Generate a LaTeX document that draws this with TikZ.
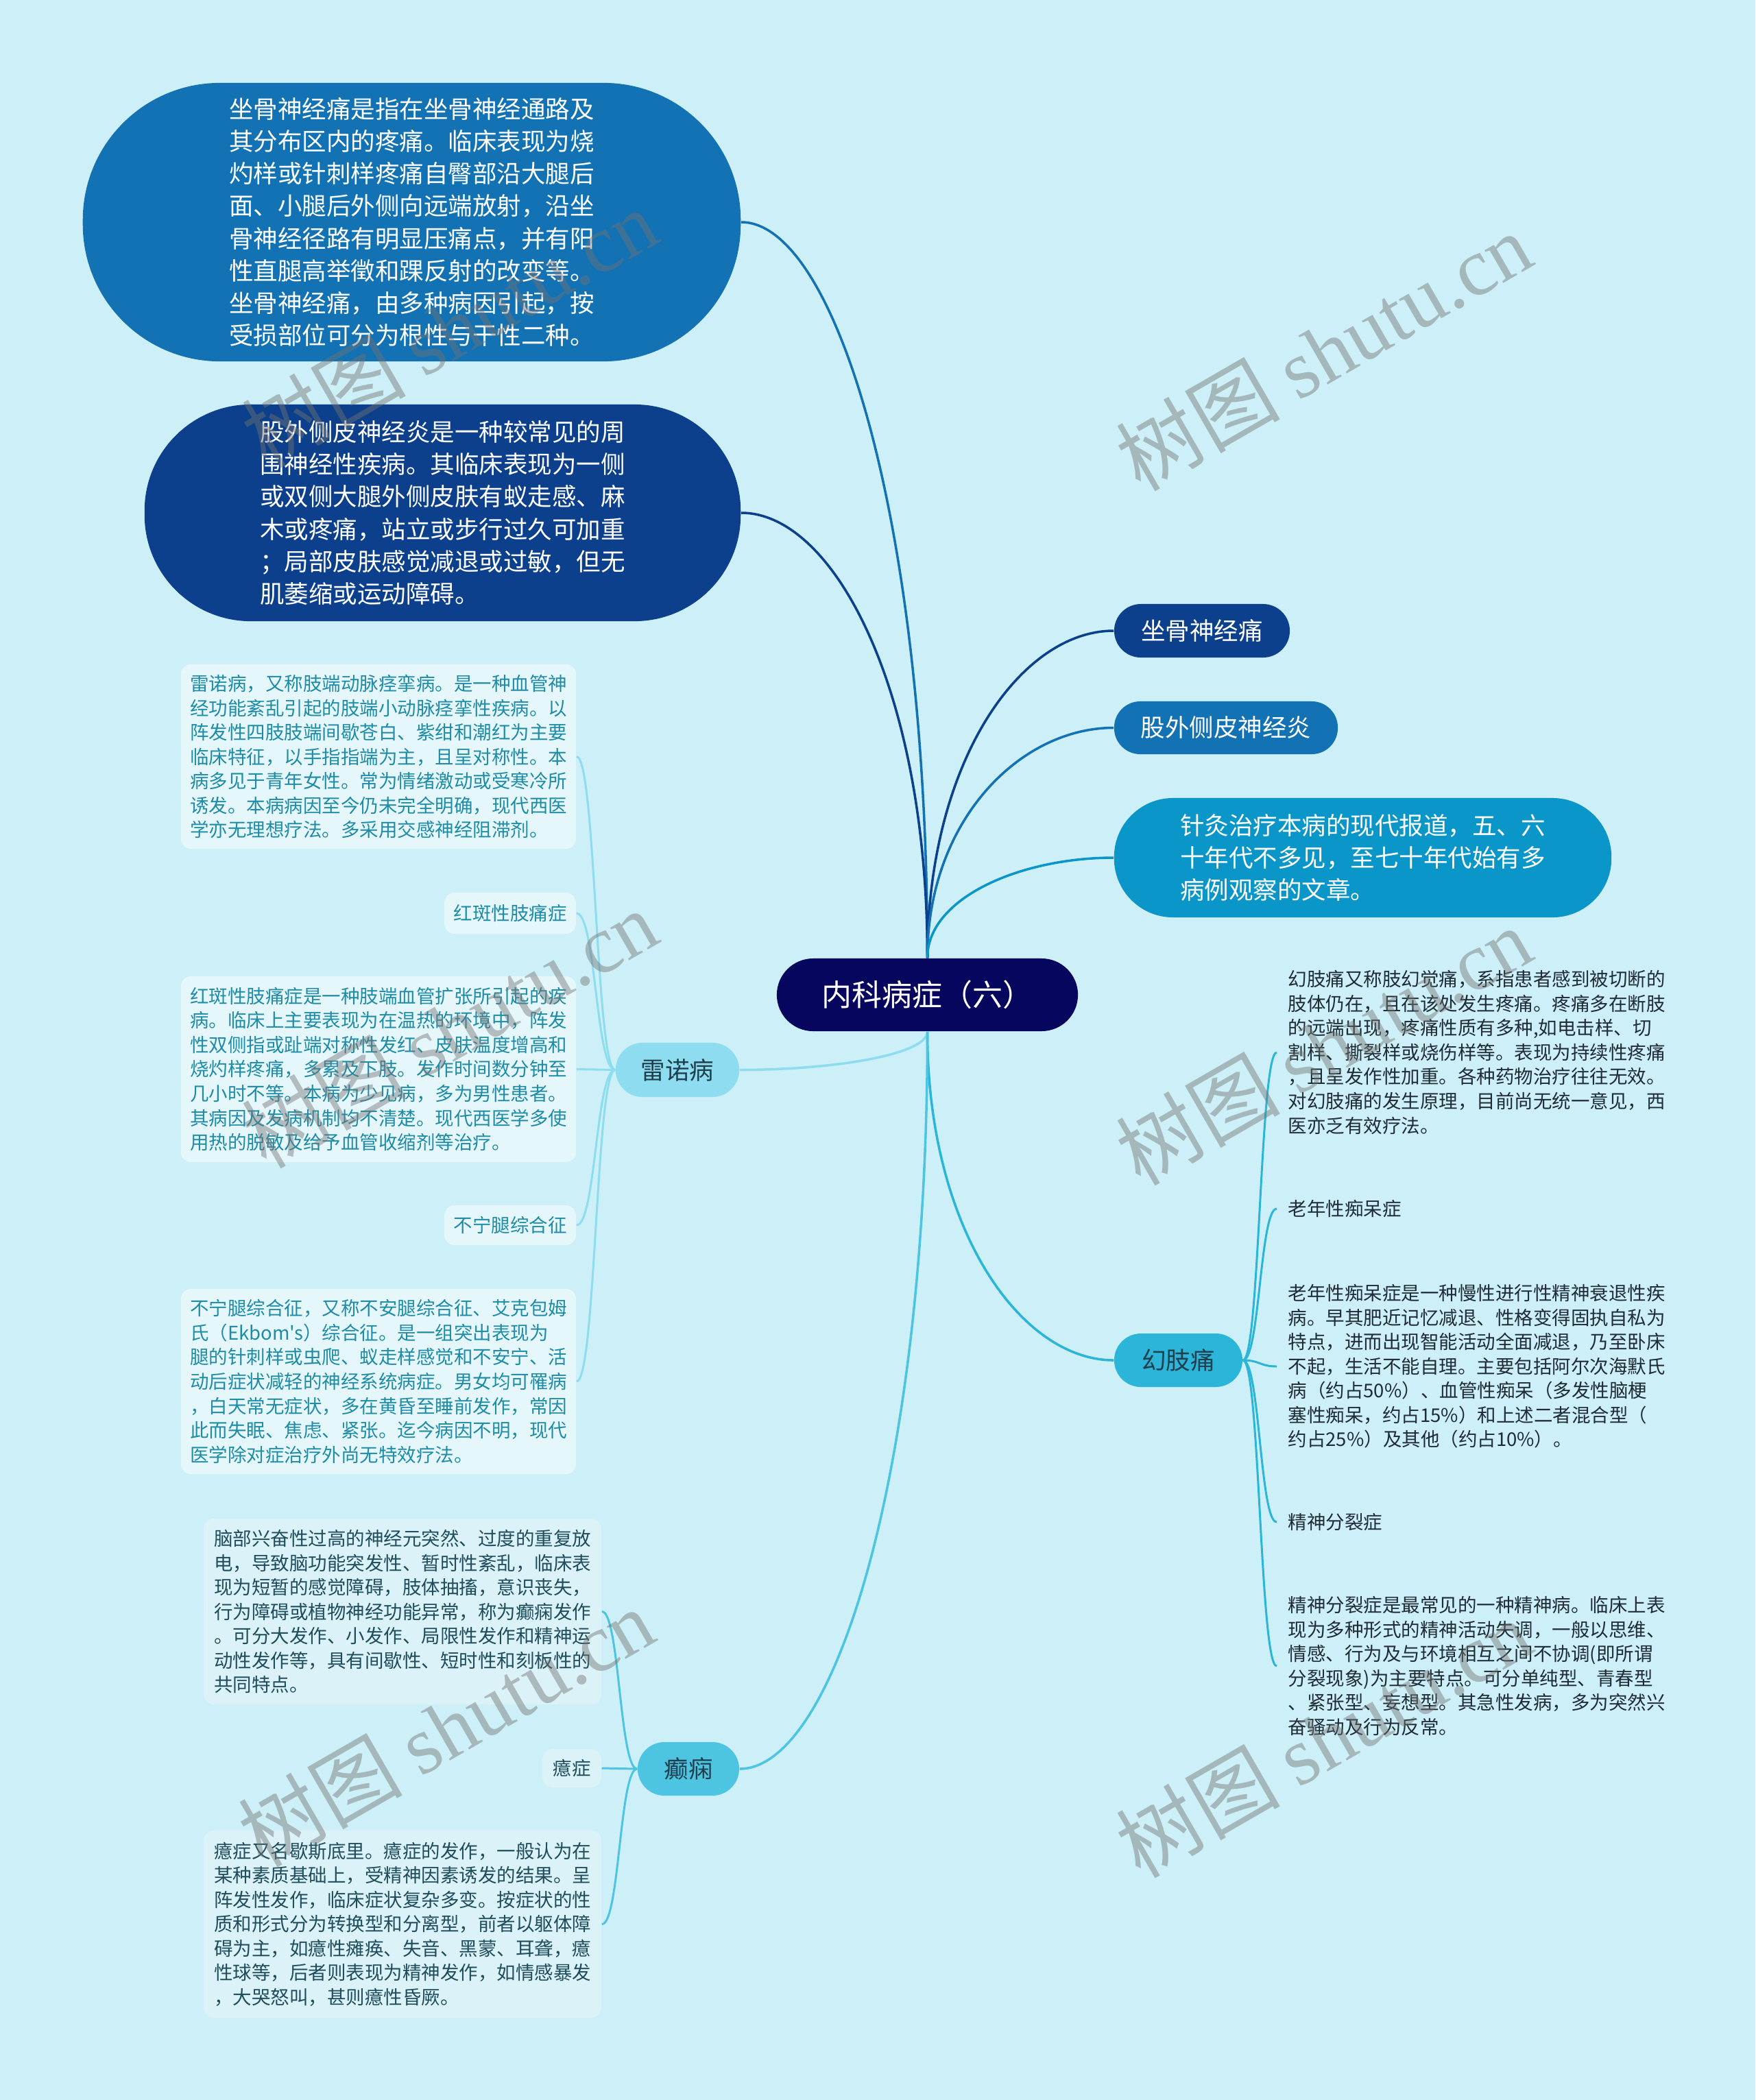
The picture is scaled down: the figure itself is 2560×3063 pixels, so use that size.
\documentclass[tikz,border=0pt]{standalone}
\usepackage{fontspec}
\setmainfont{Noto Sans CJK SC}[Ligatures=TeXOff]
\newfontfamily\wmfont{Liberation Serif}
\usetikzlibrary{calc}

\definecolor{bgc}{HTML}{CDEFF7}
\definecolor{rootc}{HTML}{06065E}
\definecolor{navyc}{HTML}{0C408C}
\definecolor{bluec}{HTML}{1272B4}
\definecolor{ceruc}{HTML}{0A96C9}
\definecolor{hzc}{HTML}{2BB5D9}
\definecolor{lnbc}{HTML}{8EDCEF}
\definecolor{dxc}{HTML}{4CC4E2}
\definecolor{lnbbox}{HTML}{E6F7FB}
\definecolor{lnbtxt}{HTML}{1E8CA7}
\definecolor{dxbox}{HTML}{DAF2F8}
\definecolor{dxtxt}{HTML}{1F4D5C}
\definecolor{hztxt}{HTML}{1F2B35}
\definecolor{labtxt}{HTML}{1E3F4E}

\tikzset{
  big/.style={font=\fontsize{10.1pt}{13.4pt}\selectfont},
  small/.style={font=\fontsize{7.82pt}{10.1pt}\selectfont},
  pill/.style={big, inner sep=0pt, align=left},
  card/.style={small, inner sep=0pt, align=left, rounded corners=0.15cm},
  branch/.style={line width=1pt,
    to path={.. controls ($(\tikztostart)!0.6!(\tikztostart |- \tikztotarget)$)
      and ($(\tikztotarget)!0.5!(\tikztotarget -| \tikztostart)$) .. (\tikztotarget)}},
  twig/.style={line width=0.85pt,
    to path={.. controls ($(\tikztostart)!0.5!(\tikztostart -| \tikztotarget)$)
      and ($(\tikztotarget)!0.5!(\tikztotarget -| \tikztostart)$) .. (\tikztotarget)}},
  wm/.style={text=black!55, opacity=0.45, rotate=30, font=\fontsize{34pt}{34pt}\selectfont}
}

\begin{document}
\begin{tikzpicture}[x=0.01cm, y=-0.01cm]
  \useasboundingbox (0,0) rectangle (2560,3063);
  \fill[bgc] (0,0) rectangle (2560,3063);

  % centre
  \node[pill, fill=rootc, text=white, font=\fontsize{12.5pt}{15pt}\selectfont,
        minimum width=4.39cm, minimum height=1.06cm, rounded corners=0.53cm] (root) at (1352.5,1451) {内科病症（六）};

  % left bubbles
  \node[pill, fill=bluec, text=white, minimum width=9.59cm, minimum height=4.06cm, rounded corners=2cm] (b1) at (600.5,324)
    {坐骨神经痛是指在坐骨神经通路及\\其分布区内的疼痛。临床表现为烧\\灼样或针刺样疼痛自臀部沿大腿后\\面、小腿后外侧向远端放射，沿坐\\骨神经径路有明显压痛点，并有阳\\性直腿高举徵和踝反射的改变等。\\坐骨神经痛，由多种病因引起，按\\受损部位可分为根性与干性二种。};
  \node[pill, fill=navyc, text=white, minimum width=8.69cm, minimum height=3.16cm, rounded corners=1.55cm] (b2) at (645.5,748)
    {股外侧皮神经炎是一种较常见的周\\围神经性疾病。其临床表现为一侧\\或双侧大腿外侧皮肤有蚁走感、麻\\木或疼痛，站立或步行过久可加重\\；局部皮肤感觉减退或过敏，但无\\肌萎缩或运动障碍。};

  % right branches
  \node[pill, fill=navyc, text=white, minimum width=2.56cm, minimum height=0.78cm, rounded corners=0.39cm] (sci) at (1753,920) {坐骨神经痛};
  \node[pill, fill=bluec, text=white, minimum width=3.26cm, minimum height=0.77cm, rounded corners=0.38cm] (lfc) at (1788,1061.5) {股外侧皮神经炎};
  \node[pill, fill=ceruc, text=white, minimum width=7.25cm, minimum height=1.74cm, rounded corners=0.86cm] (acu) at (1987.5,1251)
    {针灸治疗本病的现代报道，五、六\\十年代不多见，至七十年代始有多\\病例观察的文章。};
  \node[pill, fill=hzc, text=labtxt, minimum width=1.87cm, minimum height=0.78cm, rounded corners=0.39cm] (hz) at (1718.5,1984) {幻肢痛};
  \node[pill, fill=lnbc, text=labtxt, minimum width=1.80cm, minimum height=0.79cm, rounded corners=0.39cm] (lnb) at (988,1560.5) {雷诺病};
  \node[pill, fill=dxc, text=labtxt, minimum width=1.48cm, minimum height=0.78cm, rounded corners=0.39cm] (dx) at (1004,2580) {癫痫};

  % 雷诺病
  \node[card, fill=lnbbox, text=lnbtxt, minimum width=5.76cm, minimum height=2.69cm] (lnb1) at (552,1103.5)
    {雷诺病，又称肢端动脉痉挛病。是一种血管神\\经功能紊乱引起的肢端小动脉痉挛性疾病。以\\阵发性四肢肢端间歇苍白、紫绀和潮红为主要\\临床特征，以手指指端为主，且呈对称性。本\\病多见于青年女性。常为情绪激动或受寒冷所\\诱发。本病病因至今仍未完全明确，现代西医\\学亦无理想疗法。多采用交感神经阻滞剂。};
  \node[card, fill=lnbbox, text=lnbtxt, minimum width=1.92cm, minimum height=0.60cm] (lnb2) at (744,1332) {红斑性肢痛症};
  \node[card, fill=lnbbox, text=lnbtxt, minimum width=5.76cm, minimum height=2.71cm] (lnb3) at (552,1559.5)
    {红斑性肢痛症是一种肢端血管扩张所引起的疾\\病。临床上主要表现为在温热的环境中，阵发\\性双侧指或趾端对称性发红、皮肤温度增高和\\烧灼样疼痛，多累及下肢。发作时间数分钟至\\几小时不等。本病为少见病，多为男性患者。\\其病因及发病机制均不清楚。现代西医学多使\\用热的脱敏及给予血管收缩剂等治疗。};
  \node[card, fill=lnbbox, text=lnbtxt, minimum width=1.92cm, minimum height=0.58cm] (lnb4) at (744,1787) {不宁腿综合征};
  \node[card, fill=lnbbox, text=lnbtxt, minimum width=5.76cm, minimum height=2.70cm] (lnb5) at (552,2015)
    {不宁腿综合征，又称不安腿综合征、艾克包姆\\氏（Ekbom's）综合征。是一组突出表现为\\腿的针刺样或虫爬、蚁走样感觉和不安宁、活\\动后症状减轻的神经系统病症。男女均可罹病\\，白天常无症状，多在黄昏至睡前发作，常因\\此而失眠、焦虑、紧张。迄今病因不明，现代\\医学除对症治疗外尚无特效疗法。};

  % 癫痫
  \node[card, fill=dxbox, text=dxtxt, minimum width=5.80cm, minimum height=2.71cm] (dx1) at (587,2350.5)
    {脑部兴奋性过高的神经元突然、过度的重复放\\电，导致脑功能突发性、暂时性紊乱，临床表\\现为短暂的感觉障碍，肢体抽搐，意识丧失，\\行为障碍或植物神经功能异常，称为癫痫发作\\。可分大发作、小发作、局限性发作和精神运\\动性发作等，具有间歇性、短时性和刻板性的\\共同特点。};
  \node[card, fill=dxbox, text=dxtxt, minimum width=0.86cm, minimum height=0.56cm] (dx2) at (834,2579) {癔症};
  \node[card, fill=dxbox, text=dxtxt, minimum width=5.80cm, minimum height=2.73cm] (dx3) at (587,2806.5)
    {癔症又名歇斯底里。癔症的发作，一般认为在\\某种素质基础上，受精神因素诱发的结果。呈\\阵发性发作，临床症状复杂多变。按症状的性\\质和形式分为转换型和分离型，前者以躯体障\\碍为主，如癔性瘫痪、失音、黑蒙、耳聋，癔\\性球等，后者则表现为精神发作，如情感暴发\\，大哭怒叫，甚则癔性昏厥。};

  % 幻肢痛
  \node[small, text=hztxt, align=left, anchor=west, inner xsep=0.16cm, inner ysep=0pt] (hz1) at (1862,1535)
    {幻肢痛又称肢幻觉痛，系指患者感到被切断的\\肢体仍在，且在该处发生疼痛。疼痛多在断肢\\的远端出现，疼痛性质有多种,如电击样、切\\割样、撕裂样或烧伤样等。表现为持续性疼痛\\，且呈发作性加重。各种药物治疗往往无效。\\对幻肢痛的发生原理，目前尚无统一意见，西\\医亦乏有效疗法。};
  \node[small, text=hztxt, anchor=west, inner xsep=0.16cm, inner ysep=0pt] (hz2) at (1862,1763) {老年性痴呆症};
  \node[small, text=hztxt, align=left, anchor=west, inner xsep=0.16cm, inner ysep=0pt] (hz3) at (1862,1993)
    {老年性痴呆症是一种慢性进行性精神衰退性疾\\病。早其肥近记忆减退、性格变得固执自私为\\特点，进而出现智能活动全面减退，乃至卧床\\不起，生活不能自理。主要包括阿尔次海默氏\\病（约占50\%）、血管性痴呆（多发性脑梗\\塞性痴呆，约占15\%）和上述二者混合型（\\约占25\%）及其他（约占10\%）。};
  \node[small, text=hztxt, anchor=west, inner xsep=0.16cm, inner ysep=0pt] (hz4) at (1862,2220) {精神分裂症};
  \node[small, text=hztxt, align=left, anchor=west, inner xsep=0.16cm, inner ysep=0pt] (hz5) at (1862,2430)
    {精神分裂症是最常见的一种精神病。临床上表\\现为多种形式的精神活动失调，一般以思维、\\情感、行为及与环境相互之间不协调(即所谓\\分裂现象)为主要特点。可分单纯型、青春型\\、紧张型、妄想型。其急性发病，多为突然兴\\奋骚动及行为反常。};

  % connectors from the centre
  \draw[branch, bluec] (root.north) to (b1.east);
  \draw[branch, navyc] (root.north) to (b2.east);
  \draw[branch, navyc] (root.north) to (sci.west);
  \draw[branch, bluec] (root.north) to (lfc.west);
  \draw[branch, ceruc] (root.north) to (acu.west);
  \draw[branch, hzc] (root.south) to (hz.west);
  \draw[branch, lnbc] (root.south) to (lnb.east);
  \draw[branch, dxc] (root.south) to (dx.east);

  % sub branches
  \draw[twig, lnbc] (lnb.west) to (lnb1.east);
  \draw[twig, lnbc] (lnb.west) to (lnb2.east);
  \draw[twig, lnbc] (lnb.west) to (lnb3.east);
  \draw[twig, lnbc] (lnb.west) to (lnb4.east);
  \draw[twig, lnbc] (lnb.west) to (lnb5.east);
  \draw[twig, dxc] (dx.west) to (dx1.east);
  \draw[twig, dxc] (dx.west) to (dx2.east);
  \draw[twig, dxc] (dx.west) to (dx3.east);
  \draw[twig, hzc] (hz.east) to (hz1.west);
  \draw[twig, hzc] (hz.east) to (hz2.west);
  \draw[twig, hzc] (hz.east) to (hz3.west);
  \draw[twig, hzc] (hz.east) to (hz4.west);
  \draw[twig, hzc] (hz.east) to (hz5.west);

  % watermarks
  \node[wm] (wm1) at (655,478) {树图 {\wmfont shutu.cn}};
  \node[wm] (wm2) at (1930,512) {树图 {\wmfont shutu.cn}};
  \node[wm] (wm3) at (655,1500) {树图 {\wmfont shutu.cn}};
  \node[wm] (wm4) at (1930,1525) {树图 {\wmfont shutu.cn}};
  \node[wm] (wm5) at (650,2519) {树图 {\wmfont shutu.cn}};
  \node[wm] (wm6) at (1930,2535) {树图 {\wmfont shutu.cn}};
\end{tikzpicture}
\end{document}
